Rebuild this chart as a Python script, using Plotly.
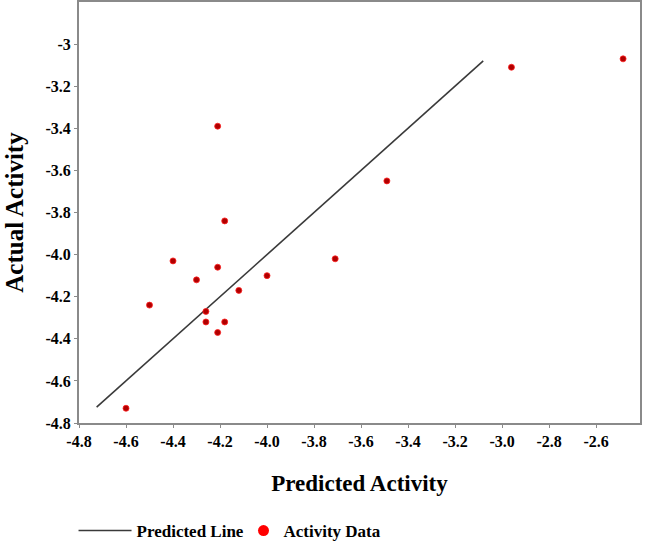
import plotly.graph_objects as go

# Activity data (predicted vs actual)
predicted = [-2.485, -2.96, -3.49, -4.21, -4.18, -4.40, -4.21, -4.50, -4.30, -4.00,
             -4.12, -3.71, -4.26, -4.26, -4.18, -4.21, -4.60]
actual = [-3.07, -3.11, -3.65, -3.39, -3.84, -4.03, -4.06, -4.24, -4.12, -4.10,
          -4.17, -4.02, -4.27, -4.32, -4.32, -4.37, -4.73]

# Predicted line endpoints (y = x)
line_x = [-4.725, -3.08]
line_y = [-4.725, -3.08]

x_tickvals = [-4.8, -4.6, -4.4, -4.2, -4.0, -3.8, -3.6, -3.4, -3.2, -3.0, -2.8, -2.6]
x_ticktext = ["-4.8", "-4.6", "-4.4", "-4.2", "-4.0", "-3.8", "-3.6", "-3.4", "-3.2", "-3.0", "-2.8", "-2.6"]
y_tickvals = [-4.8, -4.6, -4.4, -4.2, -4.0, -3.8, -3.6, -3.4, -3.2, -3.0]
y_ticktext = ["-4.8", "-4.6", "-4.4", "-4.2", "-4.0", "-3.8", "-3.6", "-3.4", "-3.2", "-3"]

serif = "Liberation Serif"

fig = go.Figure()
fig.add_trace(go.Scatter(
    x=line_x, y=line_y, mode="lines", name="Predicted Line", legend="legend",
    line=dict(color="#3a3a3a", width=1.6),
))
fig.add_trace(go.Scatter(
    x=predicted, y=actual, mode="markers", name="Activity Data", showlegend=False,
    marker=dict(color="#b00000", size=6, line=dict(color="#ff2020", width=0.8)),
))
# legend entry for the activity data (larger bright-red symbol like the reference key)
fig.add_trace(go.Scatter(
    x=[None], y=[None], mode="markers", name="Activity Data", legend="legend2",
    marker=dict(color="#ff0000", size=11),
))

axis_common = dict(
    showgrid=False, zeroline=False, showline=True, linecolor="#8a8a8a", linewidth=2,
    mirror=True, ticks="outside", ticklen=3, tickcolor="#8a8a8a", automargin=False,
    tickfont=dict(family=serif, size=16, color="black", weight="bold"),
)

legend_font = dict(family=serif, size=17, color="black", weight="bold")

fig.update_layout(
    width=649, height=541,
    margin=dict(l=79, r=9, t=2, b=118),
    paper_bgcolor="white", plot_bgcolor="white",
    xaxis=dict(range=[-4.8, -2.413], tickvals=x_tickvals, ticktext=x_ticktext,
               title=dict(text="Predicted Activity", standoff=26,
                          font=dict(family=serif, size=23, color="black", weight="bold")),
               **axis_common),
    yaxis=dict(range=[-4.8, -2.8], tickvals=y_tickvals, ticktext=y_ticktext,
               title=dict(text="Actual Activity",
                          font=dict(family=serif, size=25, color="black", weight="bold")),
               **axis_common),
    showlegend=True,
    legend=dict(orientation="h", xref="container", yref="container",
                x=0.1133, xanchor="left", y=0.0185, yanchor="middle",
                font=legend_font, bgcolor="rgba(0,0,0,0)", itemwidth=53),
    legend2=dict(orientation="h", xref="container", yref="container",
                 x=0.3752, xanchor="left", y=0.0185, yanchor="middle",
                 font=legend_font, bgcolor="rgba(0,0,0,0)", itemwidth=30),
)

fig.write_html("out.html", config={"displayModeBar": False},
               post_script="document.body.style.margin='0px';")
